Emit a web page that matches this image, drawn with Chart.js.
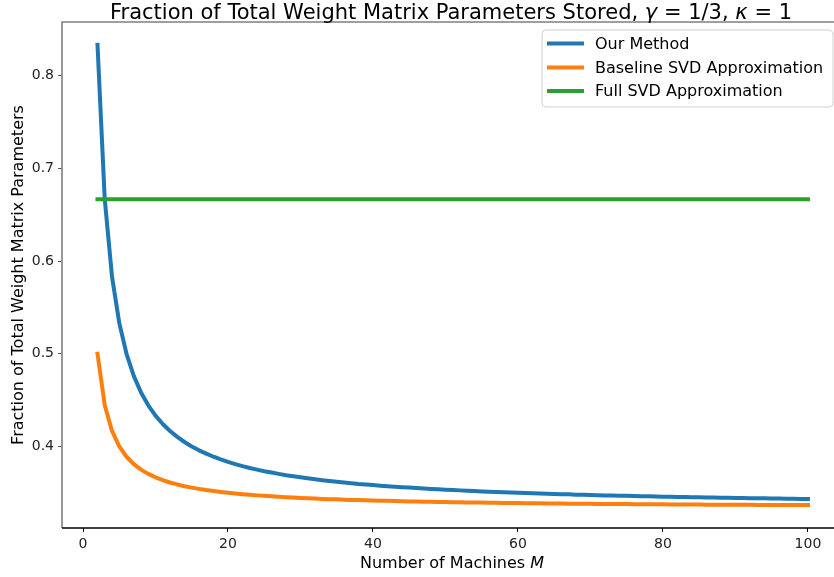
<!DOCTYPE html>
<html>
<head>
<meta charset="utf-8">
<script src="https://cdn.jsdelivr.net/npm/chart.js@4/dist/chart.umd.min.js"></script>
<style>
html,body{margin:0;padding:0;background:#fff;overflow:hidden;}
canvas{display:block;}
</style>
</head>
<body>
<canvas id="c" width="834" height="577"></canvas>
<script>
const machines = [2,3,4,5,6,7,8,9,10,11,12,13,14,15,16,17,18,19,20,21,22,23,24,25,26,27,28,29,30,31,32,33,34,35,36,37,38,39,40,41,42,43,44,45,46,47,48,49,50,51,52,53,54,55,56,57,58,59,60,61,62,63,64,65,66,67,68,69,70,71,72,73,74,75,76,77,78,79,80,81,82,83,84,85,86,87,88,89,90,91,92,93,94,95,96,97,98,99,100];
const ourMethod = [0.8333,0.6667,0.5833,0.5333,0.5000,0.4762,0.4583,0.4444,0.4333,0.4242,0.4167,0.4103,0.4048,0.4000,0.3958,0.3922,0.3889,0.3860,0.3833,0.3810,0.3788,0.3768,0.3750,0.3733,0.3718,0.3704,0.3690,0.3678,0.3667,0.3656,0.3646,0.3636,0.3627,0.3619,0.3611,0.3604,0.3596,0.3590,0.3583,0.3577,0.3571,0.3566,0.3561,0.3556,0.3551,0.3546,0.3542,0.3537,0.3533,0.3529,0.3526,0.3522,0.3519,0.3515,0.3512,0.3509,0.3506,0.3503,0.3500,0.3497,0.3495,0.3492,0.3490,0.3487,0.3485,0.3483,0.3480,0.3478,0.3476,0.3474,0.3472,0.3470,0.3468,0.3467,0.3465,0.3463,0.3462,0.3460,0.3458,0.3457,0.3455,0.3454,0.3452,0.3451,0.3450,0.3448,0.3447,0.3446,0.3444,0.3443,0.3442,0.3441,0.3440,0.3439,0.3438,0.3436,0.3435,0.3434,0.3433];
const baselineSVD = [0.5000,0.4444,0.4167,0.4000,0.3889,0.3810,0.3750,0.3704,0.3667,0.3636,0.3611,0.3590,0.3571,0.3556,0.3542,0.3529,0.3519,0.3509,0.3500,0.3492,0.3485,0.3478,0.3472,0.3467,0.3462,0.3457,0.3452,0.3448,0.3444,0.3441,0.3438,0.3434,0.3431,0.3429,0.3426,0.3423,0.3421,0.3419,0.3417,0.3415,0.3413,0.3411,0.3409,0.3407,0.3406,0.3404,0.3403,0.3401,0.3400,0.3399,0.3397,0.3396,0.3395,0.3394,0.3393,0.3392,0.3391,0.3390,0.3389,0.3388,0.3387,0.3386,0.3385,0.3385,0.3384,0.3383,0.3382,0.3382,0.3381,0.3380,0.3380,0.3379,0.3378,0.3378,0.3377,0.3377,0.3376,0.3376,0.3375,0.3374,0.3374,0.3373,0.3373,0.3373,0.3372,0.3372,0.3371,0.3371,0.3370,0.3370,0.3370,0.3369,0.3369,0.3368,0.3368,0.3368,0.3367,0.3367,0.3367];
const fullSVD = [0.6667,0.6667,0.6667,0.6667,0.6667,0.6667,0.6667,0.6667,0.6667,0.6667,0.6667,0.6667,0.6667,0.6667,0.6667,0.6667,0.6667,0.6667,0.6667,0.6667,0.6667,0.6667,0.6667,0.6667,0.6667,0.6667,0.6667,0.6667,0.6667,0.6667,0.6667,0.6667,0.6667,0.6667,0.6667,0.6667,0.6667,0.6667,0.6667,0.6667,0.6667,0.6667,0.6667,0.6667,0.6667,0.6667,0.6667,0.6667,0.6667,0.6667,0.6667,0.6667,0.6667,0.6667,0.6667,0.6667,0.6667,0.6667,0.6667,0.6667,0.6667,0.6667,0.6667,0.6667,0.6667,0.6667,0.6667,0.6667,0.6667,0.6667,0.6667,0.6667,0.6667,0.6667,0.6667,0.6667,0.6667,0.6667,0.6667,0.6667,0.6667,0.6667,0.6667,0.6667,0.6667,0.6667,0.6667,0.6667,0.6667,0.6667,0.6667,0.6667,0.6667,0.6667,0.6667,0.6667,0.6667,0.6667,0.6667];
const seriesNames = ["Our Method","Baseline SVD Approximation","Full SVD Approximation"];
const xTicks = [0,20,40,60,80,100];
const yTicks = [0.4,0.5,0.6,0.7,0.8];

const colors = ["#1f77b4","#ff7f0e","#2ca02c"];
const FONT = '"DejaVu Sans", sans-serif';

function pts(arr){ return machines.map((m,i)=>({x:m,y:arr[i]})); }

const overlay = {
  id:'overlay',
  afterDraw(chart){
    const ctx = chart.ctx, a = chart.chartArea;
    ctx.save();
    // spines
    ctx.lineWidth = 1.6;
    ctx.strokeStyle = '#808080';
    ctx.beginPath();
    ctx.moveTo(a.left, a.bottom); ctx.lineTo(a.left, a.top); ctx.lineTo(a.right, a.top);
    ctx.stroke();
    ctx.strokeStyle = '#000';
    ctx.beginPath();
    ctx.moveTo(a.left, a.bottom); ctx.lineTo(a.right, a.bottom);
    ctx.stroke();

    // title with italic symbols
    const parts = [
      ["Fraction of Total Weight Matrix Parameters Stored, ", false],
      ["γ", true], [" = 1/3, ", false], ["κ", true], [" = 1", false]
    ];
    const tsize = 21;
    let total = 0;
    parts.forEach(p=>{ ctx.font = (p[1]?'italic ':'') + tsize + 'px ' + FONT; total += ctx.measureText(p[0]).width; });
    const cx = 451;
    let x = cx - total/2;
    ctx.fillStyle = '#000';
    ctx.textBaseline = 'alphabetic';
    ctx.textAlign = 'left';
    parts.forEach(p=>{ ctx.font = (p[1]?'italic ':'') + tsize + 'px ' + FONT; ctx.fillText(p[0], x, 19); x += ctx.measureText(p[0]).width; });

    // x axis title
    const xp = [["Number of Machines ", false],["M", true]];
    const xs = 16;
    total = 0;
    xp.forEach(p=>{ ctx.font = (p[1]?'italic ':'') + xs + 'px ' + FONT; total += ctx.measureText(p[0]).width; });
    x = 452 - total/2;
    xp.forEach(p=>{ ctx.font = (p[1]?'italic ':'') + xs + 'px ' + FONT; ctx.fillText(p[0], x, 568); x += ctx.measureText(p[0]).width; });

    // y axis title
    ctx.save();
    ctx.translate(23, (a.top + a.bottom)/2);
    ctx.rotate(-Math.PI/2);
    ctx.font = '16px ' + FONT;
    ctx.textAlign = 'center';
    ctx.fillText("Fraction of Total Weight Matrix Parameters", 0, 0);
    ctx.restore();

    // legend
    const lx = 542, ly = 30, lw = 291, lh = 77, r = 4;
    ctx.beginPath();
    ctx.moveTo(lx + r, ly);
    ctx.lineTo(lx + lw - r, ly); ctx.quadraticCurveTo(lx + lw, ly, lx + lw, ly + r);
    ctx.lineTo(lx + lw, ly + lh - r); ctx.quadraticCurveTo(lx + lw, ly + lh, lx + lw - r, ly + lh);
    ctx.lineTo(lx + r, ly + lh); ctx.quadraticCurveTo(lx, ly + lh, lx, ly + lh - r);
    ctx.lineTo(lx, ly + r); ctx.quadraticCurveTo(lx, ly, lx + r, ly);
    ctx.closePath();
    ctx.fillStyle = 'rgba(255,255,255,0.8)';
    ctx.fill();
    ctx.strokeStyle = '#d0d0d0';
    ctx.lineWidth = 1;
    ctx.stroke();
    ctx.font = '16px ' + FONT;
    ctx.textBaseline = 'middle';
    const rows = [43.5, 67.5, 91];
    seriesNames.forEach((n,i)=>{
      ctx.strokeStyle = colors[i];
      ctx.lineWidth = 4;
      ctx.lineCap = 'butt';
      ctx.beginPath(); ctx.moveTo(547, rows[i]); ctx.lineTo(584, rows[i]); ctx.stroke();
      ctx.fillStyle = '#000';
      ctx.fillText(n, 595, rows[i] + 1);
    });
    ctx.restore();
  }
};

new Chart(document.getElementById('c'), {
  type:'line',
  data:{
    datasets:[
      {label:seriesNames[0], data:pts(ourMethod), borderColor:colors[0], order:2},
      {label:seriesNames[1], data:pts(baselineSVD), borderColor:colors[1], order:1},
      {label:seriesNames[2], data:pts(fullSVD), borderColor:colors[2], order:0}
    ]
  },
  options:{
    responsive:false,
    devicePixelRatio:1,
    animation:false,
    events:[],
    layout:{padding:{top:22,right:0,left:0,bottom:0}},
    elements:{
      point:{radius:0},
      line:{borderWidth:4, tension:0, borderCapStyle:'square', borderJoinStyle:'round', fill:false}
    },
    plugins:{legend:{display:false}, title:{display:false}, tooltip:{enabled:false}},
    scales:{
      x:{
        type:'linear',
        min:-2.897, max:103.59,
        afterBuildTicks(s){ s.ticks = xTicks.map(v=>({value:v})); },
        afterFit(s){ s.height = 49; },
        grid:{drawOnChartArea:false, drawTicks:true, tickLength:4, color:'#000', lineWidth:1},
        border:{display:false},
        ticks:{font:{family:'DejaVu Sans', size:14}, color:'#222', padding:4, maxRotation:0, autoSkip:false}
      },
      y:{
        type:'linear',
        min:0.312, max:0.858,
        afterBuildTicks(s){ s.ticks = yTicks.map(v=>({value:v})); },
        afterFit(s){ s.width = 62; },
        grid:{drawOnChartArea:false, drawTicks:true, tickLength:4, color:'#555', lineWidth:1},
        border:{display:false},
        ticks:{font:{family:'DejaVu Sans', size:14}, color:'#222', padding:4, autoSkip:false, callback:v=>v.toFixed(1)}
      }
    }
  },
  plugins:[overlay]
});
</script>
</body>
</html>
